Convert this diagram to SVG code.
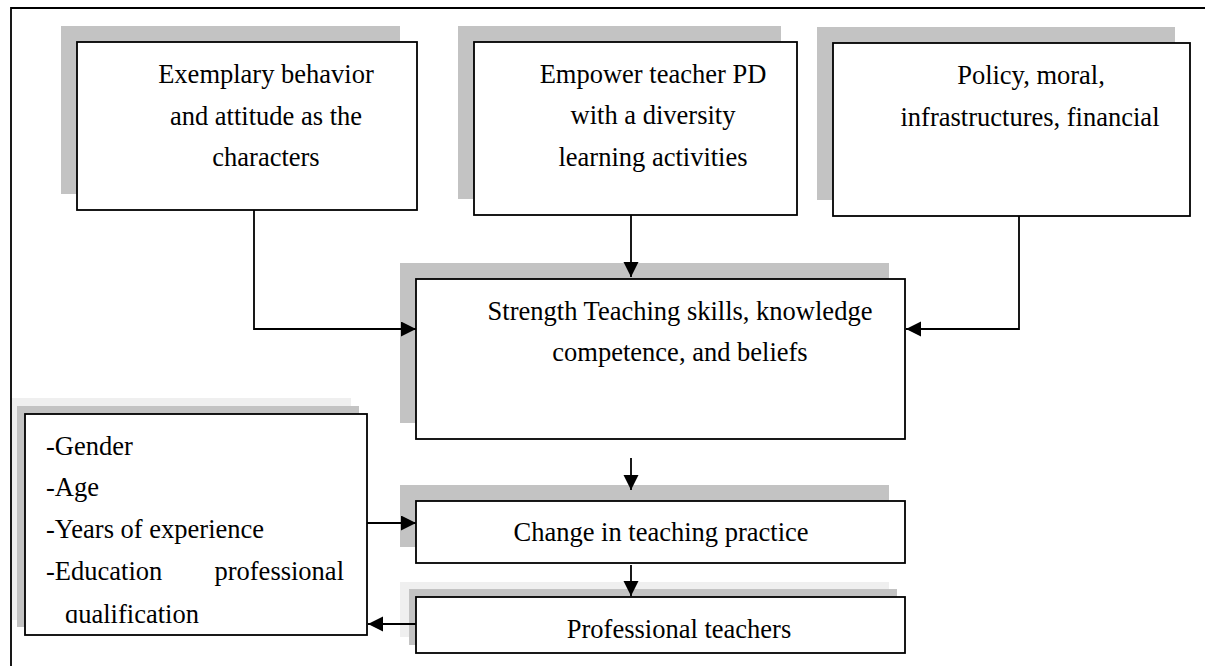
<svg xmlns="http://www.w3.org/2000/svg" width="1205" height="666" viewBox="0 0 1205 666">
<style>
.t{font-family:"Liberation Serif","Times New Roman",serif;font-size:26.5px;fill:#000}
.m{text-anchor:middle}
.box{fill:#fff;stroke:#000;stroke-width:1.8}
.sh{fill:#c3c3c3}
.shl{fill:#efefef}
.c{fill:none;stroke:#000;stroke-width:1.8}
</style>
<defs>
<marker id="ah" markerUnits="userSpaceOnUse" markerWidth="16" markerHeight="16" refX="15" refY="7.5" orient="auto">
<path d="M0,0 L15,7.5 L0,15 z" fill="#000"/>
</marker>
<clipPath id="demoClip"><rect x="25" y="414" width="342" height="209"/></clipPath>
</defs>
<rect width="1205" height="666" fill="#fff"/>
<g id="frame"><path d="M11,666 L11,8 L1205,8" fill="none" stroke="#000" stroke-width="1.8"/></g>

<g id="n1">
<rect class="sh" x="61" y="26" width="339" height="168"/>
<rect class="box" x="77" y="42" width="340" height="168"/>
<text class="t m" x="266" y="83">Exemplary behavior</text>
<text class="t m" x="266" y="125">and attitude as the</text>
<text class="t m" x="266" y="166">characters</text>
</g>
<g id="n2">
<rect class="sh" x="458" y="26" width="323" height="173"/>
<rect class="box" x="474" y="42" width="323" height="173"/>
<text class="t m" x="653" y="83">Empower teacher PD</text>
<text class="t m" x="653" y="124">with a diversity</text>
<text class="t m" x="653" y="166">learning activities</text>
</g>
<g id="n3">
<rect class="sh" x="817" y="27" width="358" height="173"/>
<rect class="box" x="833" y="43" width="357" height="173"/>
<text class="t m" x="1031" y="84">Policy, moral,</text>
<text class="t m" x="1030" y="126">infrastructures, financial</text>
</g>
<g id="n4">
<rect class="sh" x="400" y="263" width="489" height="160"/>
<rect class="box" x="416" y="279" width="489" height="160"/>
<text class="t m" x="680" y="320">Strength Teaching skills, knowledge</text>
<text class="t m" x="680" y="361">competence, and beliefs</text>
</g>
<g id="n5">
<rect class="sh" x="400" y="485" width="489" height="62"/>
<rect class="box" x="416" y="501" width="489" height="62"/>
<text class="t m" x="661" y="541">Change in teaching practice</text>
</g>
<g id="n6">
<rect class="shl" x="400" y="582" width="489" height="55"/>
<rect class="sh" x="409" y="589" width="488" height="56"/>
<rect class="box" x="416" y="597" width="489" height="56" stroke-width="2.6"/>
<text class="t m" x="679" y="638">Professional teachers</text>
</g>
<g id="n7">
<rect class="shl" x="12" y="398" width="339" height="222"/>
<rect class="sh" x="17" y="406" width="342" height="221"/>
<rect class="box" x="25" y="414" width="342" height="221" stroke-width="2.2"/>
<g clip-path="url(#demoClip)">
<text class="t" x="46" y="455">-Gender</text>
<text class="t" x="46" y="496">-Age</text>
<text class="t" x="46" y="538">-Years of experience</text>
<text class="t" x="46" y="580">-Education</text>
<text class="t" x="344" y="580" text-anchor="end">professional</text>
<text class="t" x="65" y="623">qualification</text>
</g>
</g>

<g id="connectors">
<path class="c" d="M254,210 L254,329 L416,329" marker-end="url(#ah)"/>
<path class="c" d="M631,215 L631,277" marker-end="url(#ah)"/>
<path class="c" d="M1019,216 L1019,329 L906,329" marker-end="url(#ah)"/>
<path class="c" d="M631,458 L631,490" marker-end="url(#ah)"/>
<path class="c" d="M631,565 L631,596" marker-end="url(#ah)"/>
<path class="c" d="M367,523 L416,523" marker-end="url(#ah)"/>
<path class="c" d="M416,624 L368,624" marker-end="url(#ah)"/>
</g>
</svg>
